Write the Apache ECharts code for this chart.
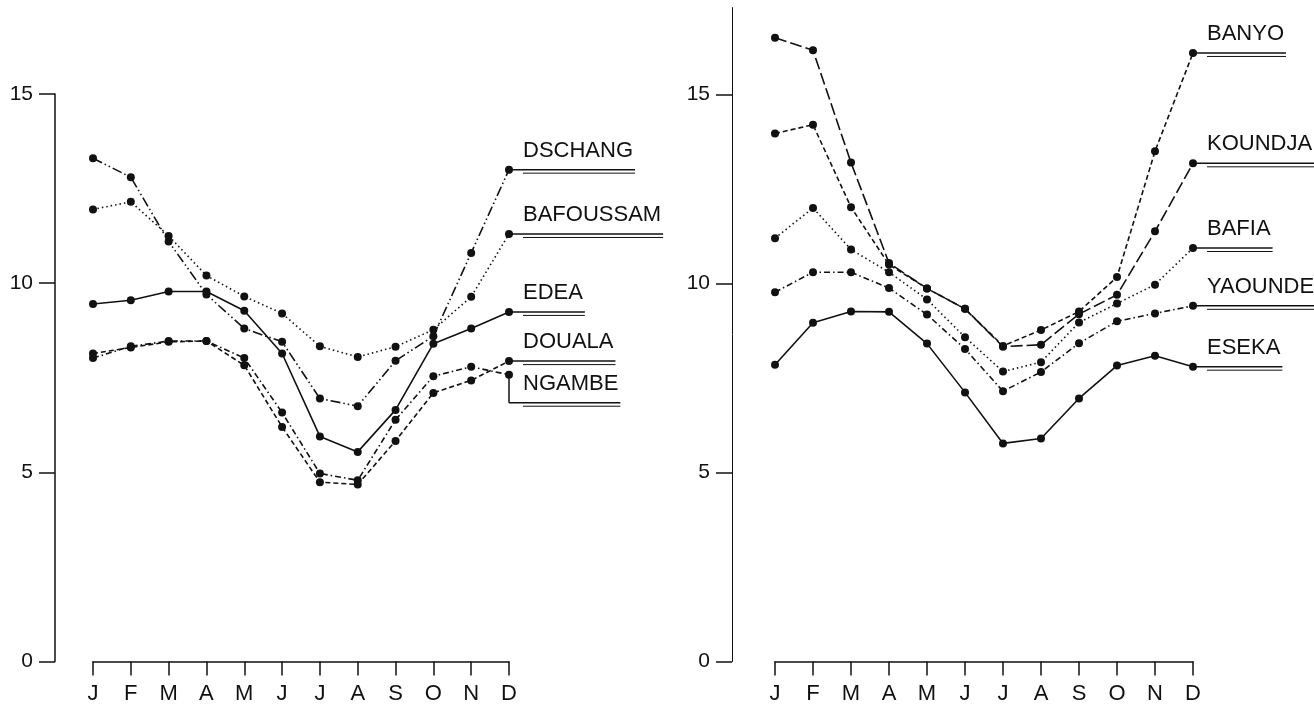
<!DOCTYPE html>
<html>
<head>
<meta charset="utf-8">
<script src="https://cdn.jsdelivr.net/npm/echarts@6/dist/echarts.min.js"></script>
<style>
  html, body { margin: 0; padding: 0; background: #fff; }
  #chart { width: 1314px; height: 710px; }
</style>
</head>
<body>
<div id="chart"></div>
<script>
// Month initials on the horizontal axis
const months = ['J', 'F', 'M', 'A', 'M', 'J', 'J', 'A', 'S', 'O', 'N', 'D'];
const yTicks = [0, 5, 10, 15];

// Left panel stations
const dschang    = [13.3, 12.8, 11.1, 9.7, 8.8, 8.45, 6.95, 6.75, 7.95, 8.6, 10.8, 13.0];
const bafoussam  = [11.95, 12.15, 11.25, 10.2, 9.65, 9.2, 8.33, 8.05, 8.32, 8.77, 9.64, 11.3];
const edea       = [9.45, 9.55, 9.78, 9.78, 9.27, 8.14, 5.95, 5.54, 6.65, 8.4, 8.8, 9.24];
const douala     = [8.14, 8.3, 8.45, 8.47, 7.83, 6.2, 4.74, 4.68, 5.83, 7.1, 7.43, 7.94];
const ngambe     = [8.02, 8.33, 8.47, 8.47, 8.02, 6.58, 4.97, 4.79, 6.39, 7.54, 7.79, 7.58];

// Right panel stations
const banyo      = [13.97, 14.2, 12.02, 10.5, 9.87, 9.33, 8.35, 8.77, 9.26, 10.17, 13.5, 16.1];
const koundja    = [16.5, 16.17, 13.2, 10.54, 9.87, 9.33, 8.33, 8.38, 9.19, 9.7, 11.38, 13.18];
const bafia      = [11.2, 12.0, 10.9, 10.3, 9.58, 8.58, 7.67, 7.92, 8.97, 9.47, 9.97, 10.94];
const yaounde    = [9.77, 10.3, 10.3, 9.88, 9.18, 8.27, 7.15, 7.66, 8.42, 9.0, 9.21, 9.41];
const eseka      = [7.85, 8.96, 9.26, 9.25, 8.41, 7.12, 5.77, 5.9, 6.96, 7.83, 8.09, 7.8];

const INK = '#111';
const FONT = '"Liberation Sans", Arial, Helvetica, sans-serif';

// Line dash patterns
const DASH = {
  solid: 'solid',
  dotted: [1.5, 3],
  dashed: [5, 3],
  longDash: [12, 4],
  dashDot: [6, 3, 1.5, 3],
  dashDotDot: [10, 3, 1.5, 3, 1.5, 3]
};

const stations = [
  { name: 'DSCHANG',   panel: 0, data: dschang,   dash: DASH.dashDotDot, drop: 0 },
  { name: 'BAFOUSSAM', panel: 0, data: bafoussam, dash: DASH.dotted,     drop: 0 },
  { name: 'EDEA',      panel: 0, data: edea,      dash: DASH.solid,      drop: 0 },
  { name: 'DOUALA',    panel: 0, data: douala,    dash: DASH.dashed,     drop: 0 },
  { name: 'NGAMBE',    panel: 0, data: ngambe,    dash: DASH.dashDot,    drop: 28 },
  { name: 'BANYO',     panel: 1, data: banyo,     dash: DASH.dashed,     drop: 0 },
  { name: 'KOUNDJA',   panel: 1, data: koundja,   dash: DASH.longDash,   drop: 0 },
  { name: 'BAFIA',     panel: 1, data: bafia,     dash: DASH.dotted,     drop: 0 },
  { name: 'YAOUNDE',   panel: 1, data: yaounde,   dash: DASH.dashDot,    drop: 0 },
  { name: 'ESEKA',     panel: 1, data: eseka,     dash: DASH.solid,      drop: 0 }
];

function xAxisFor(i) {
  return {
    type: 'category', gridIndex: i, data: months, boundaryGap: false,
    axisLine: { lineStyle: { color: INK, width: 1.5 } },
    axisTick: { show: true, length: 14, lineStyle: { color: INK, width: 1.5 } },
    axisLabel: { color: INK, fontFamily: FONT, fontSize: 22, margin: 21, interval: 0 },
    splitLine: { show: false }
  };
}

function yAxisFor(i, max, offset) {
  return {
    type: 'value', gridIndex: i, min: 0, max: max, interval: 5, offset: offset,
    axisLine: { show: true, lineStyle: { color: INK, width: i === 0 ? 1.5 : 1 } },
    axisTick: { show: true, length: 16, customValues: yTicks, lineStyle: { color: INK, width: 1.5 } },
    axisLabel: { color: INK, fontFamily: FONT, fontSize: 21, margin: 22, customValues: yTicks },
    splitLine: { show: false }
  };
}

const chart = echarts.init(document.getElementById('chart'), null, { renderer: 'canvas' });

chart.setOption({
  backgroundColor: '#fff',
  animation: false,
  grid: [
    { left: 93, right: 805, top: 94, bottom: 48.5 },
    { left: 775, right: 121, top: 7.6, bottom: 48.5 }
  ],
  xAxis: [xAxisFor(0), xAxisFor(1)],
  yAxis: [yAxisFor(0, 15, 38), yAxisFor(1, 17.3, 43)],
  series: stations.map(s => ({
    type: 'line', name: s.name, xAxisIndex: s.panel, yAxisIndex: s.panel,
    data: s.data, symbol: 'circle', symbolSize: 8,
    itemStyle: { color: INK },
    lineStyle: { color: INK, width: 1.6, type: s.dash },
    z: 3
  }))
});

// Station name tags: a double rule running from the December point, name above it
const measure = document.createElement('canvas').getContext('2d');
measure.font = '22px ' + FONT;

const tags = [];
stations.forEach(s => {
  const p = chart.convertToPixel({ xAxisIndex: s.panel, yAxisIndex: s.panel }, [11, s.data[11]]);
  const x = p[0], y = p[1];
  const ly = y + s.drop;
  const tx = x + 14;
  const w = measure.measureText(s.name).width;
  const xEnd = tx + w + 2;
  if (s.drop) {
    tags.push({ type: 'line', shape: { x1: x, y1: y, x2: x, y2: ly }, style: { stroke: INK, lineWidth: 1.5 }, z: 5 });
  }
  tags.push({ type: 'line', shape: { x1: x, y1: ly, x2: xEnd, y2: ly }, style: { stroke: INK, lineWidth: 1.5 }, z: 5 });
  tags.push({ type: 'line', shape: { x1: tx, y1: ly + 3.5, x2: xEnd, y2: ly + 3.5 }, style: { stroke: INK, lineWidth: 1 }, z: 5 });
  tags.push({
    type: 'text', x: tx, y: ly - 19, z: 5,
    style: { text: s.name, font: '22px ' + FONT, fill: INK, textAlign: 'left', align: 'left', textVerticalAlign: 'middle', verticalAlign: 'middle' }
  });
});

chart.setOption({ graphic: { elements: tags } });
</script>
</body>
</html>
